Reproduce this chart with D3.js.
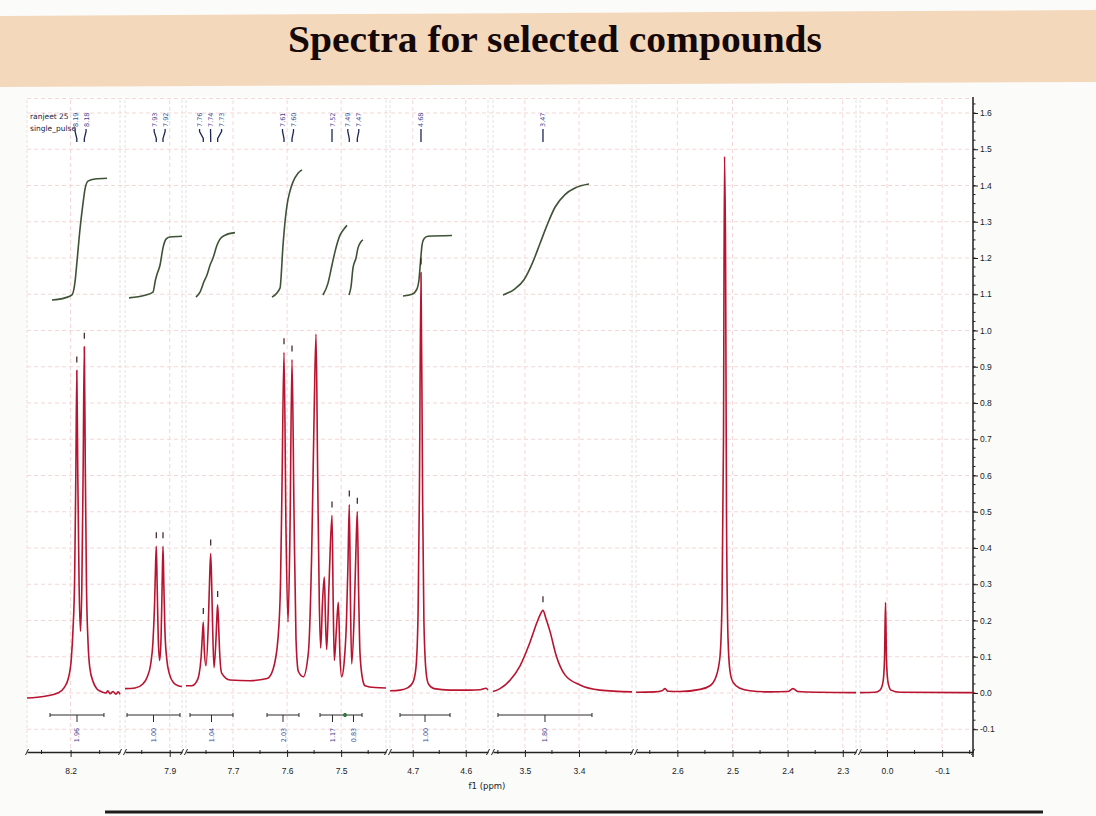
<!DOCTYPE html>
<html>
<head>
<meta charset="utf-8">
<script src="https://cdn.jsdelivr.net/npm/d3@7"></script>
<style>
  body { margin: 0; background: #fbfbfa; }
  svg { display: block; }
</style>
</head>
<body>
<div id="chart"></div>
<script>
// ---- data ----
// ppm window of each broken-axis segment
var segDomains = [
  [8.275, 8.115], [7.98, 7.878], [7.787, 7.417], [4.743, 4.558],
  [3.559, 3.302], [2.675, 2.276], [0.049, -0.156]
];

// spectrum traces, [ppm, intensity]
var spec1 = [[8.275,-0.014],[8.244,-0.009],[8.222,0.0],[8.211,0.015],[8.204,0.04],[8.199,0.09],[8.196,0.17],[8.193,0.32],[8.191,0.6],[8.1893,0.89],[8.1876,0.6],[8.1854,0.3],[8.183,0.17],[8.1806,0.3],[8.1784,0.62],[8.1764,0.955],[8.1747,0.62],[8.1727,0.3],[8.170,0.14],[8.167,0.07],[8.161,0.03],[8.155,0.012],[8.146,0.003],[8.139,0.0],[8.136,0.006],[8.132,-0.002],[8.127,0.004],[8.122,-0.003],[8.118,0.003],[8.115,-0.004]];
var spec2 = [[7.980,0.012],[7.962,0.014],[7.948,0.025],[7.940,0.045],[7.934,0.08],[7.930,0.14],[7.927,0.25],[7.9255,0.34],[7.924,0.405],[7.9225,0.3],[7.9205,0.15],[7.918,0.09],[7.9155,0.15],[7.9135,0.3],[7.912,0.405],[7.9105,0.3],[7.9085,0.17],[7.905,0.09],[7.900,0.05],[7.893,0.028],[7.885,0.02],[7.878,0.018]];
var spec3 = [[7.787,0.02],[7.776,0.02],[7.768,0.03],[7.763,0.05],[7.759,0.1],[7.757,0.15],[7.755,0.196],[7.7532,0.12],[7.750,0.075],[7.7455,0.2],[7.743,0.33],[7.7413,0.385],[7.7395,0.3],[7.738,0.2],[7.7352,0.07],[7.7315,0.15],[7.7295,0.22],[7.7284,0.243],[7.7265,0.18],[7.725,0.12],[7.721,0.055],[7.7056,0.036],[7.6686,0.034],[7.637,0.04],[7.626,0.065],[7.6168,0.15],[7.6122,0.3],[7.6094,0.57],[7.6057,0.94],[7.602,0.45],[7.5983,0.196],[7.5946,0.45],[7.5909,0.92],[7.5872,0.5],[7.5835,0.15],[7.5792,0.06],[7.570,0.045],[7.5607,0.11],[7.5545,0.385],[7.5502,0.75],[7.5465,0.99],[7.5434,0.6],[7.5404,0.25],[7.5378,0.124],[7.5345,0.25],[7.5311,0.32],[7.5289,0.2],[7.5267,0.12],[7.5224,0.3],[7.5169,0.49],[7.5147,0.25],[7.5126,0.09],[7.5086,0.18],[7.5052,0.25],[7.5021,0.1],[7.499,0.045],[7.4947,0.08],[7.4901,0.2],[7.4873,0.36],[7.4849,0.52],[7.4827,0.25],[7.4805,0.08],[7.4762,0.2],[7.4725,0.4],[7.4701,0.50],[7.4679,0.3],[7.4651,0.11],[7.4605,0.04],[7.4558,0.02],[7.4373,0.015],[7.417,0.014]];
var spec4 = [[4.743,0.006],[4.724,0.008],[4.709,0.015],[4.6996,0.03],[4.694,0.07],[4.690,0.22],[4.6875,0.55],[4.6845,1.16],[4.6815,0.55],[4.679,0.2],[4.675,0.06],[4.6705,0.025],[4.66,0.012],[4.63,0.008],[4.592,0.008],[4.573,0.009],[4.5618,0.013],[4.558,0.008]];
var spec5 = [[3.559,0.004],[3.546,0.012],[3.5276,0.035],[3.509,0.075],[3.4906,0.14],[3.4776,0.195],[3.4721,0.215],[3.4666,0.228],[3.461,0.205],[3.4536,0.17],[3.4425,0.105],[3.4259,0.05],[3.3981,0.022],[3.3612,0.008],[3.302,0.003]];
var spec6 = [[2.675,0.002],[2.6405,0.003],[2.6278,0.006],[2.6224,0.012],[2.617,0.005],[2.5952,0.004],[2.5589,0.01],[2.5408,0.02],[2.5299,0.045],[2.5227,0.1],[2.519,0.25],[2.5163,0.7],[2.5145,1.48],[2.5125,1.19],[2.5109,0.5],[2.5081,0.15],[2.5045,0.06],[2.4991,0.03],[2.4864,0.013],[2.4683,0.006],[2.432,0.003],[2.3993,0.004],[2.3903,0.012],[2.3812,0.004],[2.3413,0.002],[2.276,0.001]];
var spec7 = [[0.049,0.001],[0.0218,0.002],[0.0127,0.008],[0.0073,0.03],[0.0046,0.09],[0.0027,0.25],[0.0009,0.09],[-0.0018,0.03],[-0.0072,0.008],[-0.0236,0.002],[-0.156,0.001]];
var spectra = [spec1, spec2, spec3, spec4, spec5, spec6, spec7];

// integral curves, [ppm, value]; first entry is the segment index
var integrals = [
  [0, [[8.232,1.084],[8.2096,1.09],[8.1976,1.098],[8.1924,1.134],[8.189,1.19],[8.1838,1.28],[8.1787,1.35],[8.1752,1.39],[8.1701,1.412],[8.158,1.418],[8.1374,1.42]]],
  [1, [[7.9728,1.09],[7.9442,1.097],[7.9299,1.106],[7.9254,1.14],[7.9227,1.155],[7.9174,1.18],[7.912,1.228],[7.9066,1.252],[7.8995,1.258],[7.878,1.26]]],
  [2, [[7.7685,1.092],[7.7611,1.106],[7.7537,1.135],[7.7482,1.153],[7.7426,1.18],[7.737,1.2],[7.7297,1.235],[7.7241,1.252],[7.7149,1.263],[7.6964,1.27]]],
  [2, [[7.6279,1.092],[7.6131,1.117],[7.6075,1.236],[7.6038,1.3],[7.6001,1.346],[7.5946,1.385],[7.589,1.41],[7.5798,1.434],[7.5724,1.443]]],
  [2, [[7.5336,1.098],[7.5244,1.13],[7.517,1.18],[7.5114,1.217],[7.5021,1.263],[7.4947,1.28],[7.4892,1.29]]],
  [2, [[7.4855,1.098],[7.4818,1.12],[7.4781,1.172],[7.4725,1.2],[7.4688,1.228],[7.4633,1.245],[7.4596,1.25]]],
  [3, [[4.7185,1.095],[4.7015,1.1],[4.692,1.115],[4.6883,1.14],[4.6854,1.19],[4.6826,1.235],[4.6788,1.253],[4.6713,1.26],[4.626,1.262]]],
  [4, [[3.5405,1.098],[3.5183,1.115],[3.5017,1.14],[3.485,1.19],[3.4721,1.24],[3.4592,1.29],[3.4444,1.34],[3.4259,1.375],[3.4074,1.393],[3.3815,1.404]]]
];

// picked peaks: label, ppm, height
var peakLabels = ["8.19","8.18","7.93","7.92","7.76","7.74","7.73","7.61","7.60","7.52","7.49","7.47","4.68","3.47"];
var peakPpm = [8.1893,8.1764,7.924,7.912,7.755,7.7413,7.7284,7.6057,7.5909,7.5169,7.4849,7.4701,4.6845,3.4666];
var peakHeight = [0.89,0.955,0.405,0.405,0.196,0.385,0.243,0.94,0.92,0.49,0.52,0.50,1.16,0.228];

// integration ranges and their values
var intRanges = [[8.2354,8.1426],[7.9764,7.8816],[7.7796,7.700],[7.6371,7.578],[7.5391,7.4929],[7.4929,7.4614],[4.7241,4.6297],[3.5498,3.376]];
var intValues = ["1.96","1.00","1.04","2.03","1.17","0.83","1.00","1.80"];

var yTicks = d3.range(-1, 17).map(function(k) { return k / 10; });

// ---- layout ----
var svgWidth = 1096;
var svgHeight = 816;
var segPixels = [[27,120],[125,182],[186,386],[390,488],[493,632],[636,856],[860,973]];
var axisY = 752;
var plotTop = 100;
var rightX = 973;

var svg = d3.select("#chart")
  .append("svg")
  .attr("width", svgWidth)
  .attr("height", svgHeight);

// title banner
svg.append("polygon")
  .attr("points", "0,16 1096,10 1096,82 0,87")
  .attr("fill", "#f4d8bb");

svg.append("text")
  .attr("x", 555)
  .attr("y", 52)
  .attr("text-anchor", "middle")
  .attr("font-family", "Liberation Serif, serif")
  .attr("font-weight", "bold")
  .attr("font-size", 37)
  .attr("textLength", 534)
  .attr("lengthAdjust", "spacingAndGlyphs")
  .attr("fill", "#140808")
  .text("Spectra for selected compounds");

// plot background
svg.append("rect")
  .attr("x", 27).attr("y", 97)
  .attr("width", rightX - 27).attr("height", axisY - 97)
  .attr("fill", "#ffffff");

var y = d3.scaleLinear().domain([-0.1, 1.6]).range([729.25, 113]);

var xScales = segDomains.map(function(dom, i) {
  return d3.scaleLinear().domain(dom).range(segPixels[i]);
});

function fmt(v) { return v.toFixed(1); }

function ticksIn(dom, step) {
  var lo = Math.min(dom[0], dom[1]), hi = Math.max(dom[0], dom[1]);
  var out = [];
  for (var k = Math.ceil(lo / step - 1e-9); k <= Math.floor(hi / step + 1e-9); k++) {
    out.push(+(k * step).toFixed(3));
  }
  return out;
}

// grid
var grid = svg.append("g");
grid.selectAll(".hgrid")
  .data(yTicks.concat([1.64]))
  .enter()
  .append("line")
  .attr("x1", 27).attr("x2", rightX)
  .attr("y1", function(d) { return y(d); })
  .attr("y2", function(d) { return y(d); })
  .attr("stroke", "#f5d6d6")
  .attr("stroke-dasharray", "4,3");

xScales.forEach(function(xs, i) {
  var major = ticksIn(segDomains[i], 0.1);
  grid.selectAll(null)
    .data(major)
    .enter()
    .append("line")
    .attr("x1", function(d) { return xs(d); })
    .attr("x2", function(d) { return xs(d); })
    .attr("y1", plotTop).attr("y2", axisY)
    .attr("stroke", "#f5d6d6")
    .attr("stroke-dasharray", "4,3");
  // segment edges
  grid.selectAll(null)
    .data(segPixels[i])
    .enter()
    .append("line")
    .attr("x1", function(d) { return d; })
    .attr("x2", function(d) { return d; })
    .attr("y1", plotTop).attr("y2", axisY)
    .attr("stroke", "#e2e2e2")
    .attr("stroke-dasharray", "3,2");
});

// x axis, one piece per segment
xScales.forEach(function(xs, i) {
  var major = ticksIn(segDomains[i], 0.1);
  var minor = ticksIn(segDomains[i], 0.05).filter(function(v) {
    return major.indexOf(v) < 0;
  });

  var g = svg.append("g")
    .attr("transform", `translate(0, ${axisY})`)
    .attr("font-family", "DejaVu Sans, sans-serif");

  g.call(d3.axisBottom(xs).tickValues(major).tickSize(5).tickSizeOuter(0).tickPadding(11).tickFormat(fmt));
  g.select(".domain").attr("stroke", "#222").attr("stroke-width", 1.4);
  g.selectAll(".tick line").attr("stroke", "#222").attr("y1", -2);
  g.selectAll(".tick text").attr("font-size", 8.5).attr("fill", "#222");

  g.selectAll(".minor")
    .data(minor)
    .enter()
    .append("line")
    .attr("x1", function(d) { return xs(d); })
    .attr("x2", function(d) { return xs(d); })
    .attr("y1", -2).attr("y2", 2)
    .attr("stroke", "#222");

  // little break marks at the segment ends
  g.selectAll(".brk")
    .data(segPixels[i])
    .enter()
    .append("line")
    .attr("x1", function(d) { return d - 1.5; })
    .attr("x2", function(d) { return d + 1.5; })
    .attr("y1", 3).attr("y2", -3)
    .attr("stroke", "#222");
});

svg.append("text")
  .attr("x", 487)
  .attr("y", 789)
  .attr("text-anchor", "middle")
  .attr("font-family", "DejaVu Sans, sans-serif")
  .attr("font-size", 8.5)
  .attr("fill", "#222")
  .text("f1 (ppm)");

// y axis on the right
var yAxisG = svg.append("g")
  .attr("transform", `translate(${rightX}, 0)`)
  .attr("font-family", "DejaVu Sans, sans-serif");

yAxisG.call(d3.axisRight(y).tickValues(yTicks).tickSize(5).tickPadding(2).tickFormat(fmt));
yAxisG.select(".domain").remove();
yAxisG.selectAll(".tick line").attr("stroke", "#222");
yAxisG.selectAll(".tick text").attr("font-size", 8.5).attr("fill", "#222");

yAxisG.selectAll(".yminor")
  .data(d3.range(-4, 66).map(function(k) { return k * 0.025; }))
  .enter()
  .append("line")
  .attr("x1", 0).attr("x2", 2.5)
  .attr("y1", function(d) { return y(d); })
  .attr("y2", function(d) { return y(d); })
  .attr("stroke", "#222");

yAxisG.append("line")
  .attr("x1", 0).attr("x2", 0)
  .attr("y1", 97).attr("y2", 757)
  .attr("stroke", "#222")
  .attr("stroke-width", 1.5);

// spectrum traces
spectra.forEach(function(data, i) {
  var xs = xScales[i];
  var line = d3.line()
    .x(function(d) { return xs(d[0]); })
    .y(function(d) { return y(d[1]); })
    .curve(d3.curveMonotoneX);
  svg.append("path")
    .datum(data)
    .attr("d", line)
    .attr("fill", "none")
    .attr("stroke", "#b8142f")
    .attr("stroke-width", 1.6)
    .attr("stroke-linejoin", "round");
});

// integral curves
integrals.forEach(function(item) {
  var xs = xScales[item[0]];
  var line = d3.line()
    .x(function(d) { return xs(d[0]); })
    .y(function(d) { return y(d[1]); })
    .curve(d3.curveMonotoneX);
  svg.append("path")
    .datum(item[1])
    .attr("d", line)
    .attr("fill", "none")
    .attr("stroke", "#3e5236")
    .attr("stroke-width", 1.6);
});

// peak picking: find which segment holds a ppm
function segOf(p) {
  for (var i = 0; i < segDomains.length; i++) {
    var lo = Math.min(segDomains[i][0], segDomains[i][1]);
    var hi = Math.max(segDomains[i][0], segDomains[i][1]);
    if (p >= lo && p <= hi) return i;
  }
  return 0;
}
function xOf(p) { return xScales[segOf(p)](p); }

var peakX = peakPpm.map(xOf);
var labelX = peakX.slice();
// spread labels so they do not collide
for (var pass = 0; pass < 40; pass++) {
  for (var j = 1; j < labelX.length; j++) {
    var gap = labelX[j] - labelX[j - 1];
    if (gap < 11) {
      var push = (11 - gap) / 2;
      labelX[j - 1] -= push;
      labelX[j] += push;
    }
  }
}

var peakG = svg.append("g");
peakLabels.forEach(function(lab, i) {
  peakG.append("polyline")
    .attr("points", [[labelX[i], 129], [labelX[i], 131.5], [peakX[i], 138.5], [peakX[i], 142]].join(" "))
    .attr("fill", "none")
    .attr("stroke", "#1d2656")
    .attr("stroke-width", 1.3);
  peakG.append("text")
    .attr("transform", `translate(${labelX[i] + 2.5}, 127) rotate(-90)`)
    .attr("font-family", "DejaVu Sans, sans-serif")
    .attr("font-size", 6.5)
    .attr("fill", "#3a4590")
    .text(lab);
  // small pick marker above the peak top
  peakG.append("line")
    .attr("x1", peakX[i]).attr("x2", peakX[i])
    .attr("y1", y(peakHeight[i]) - 14)
    .attr("y2", y(peakHeight[i]) - 8)
    .attr("stroke", "#3a1a1a")
    .attr("stroke-width", 1.2);
});

// sample name in the corner
svg.append("text")
  .attr("x", 30).attr("y", 119)
  .attr("font-family", "DejaVu Sans, sans-serif")
  .attr("font-size", 7.5)
  .attr("fill", "#1c2240")
  .text("ranjeet 25");
svg.append("text")
  .attr("x", 30).attr("y", 131)
  .attr("font-family", "DejaVu Sans, sans-serif")
  .attr("font-size", 7.5)
  .attr("fill", "#1c2240")
  .text("single_pulse");

// integration bars
var barY = 715;
intRanges.forEach(function(r, i) {
  var x1 = xOf(r[0]), x2 = xOf(r[1]);
  var xc = (x1 + x2) / 2;
  var g = svg.append("g").attr("stroke", "#2a2a2a");
  g.append("line").attr("x1", x1).attr("x2", x2).attr("y1", barY).attr("y2", barY);
  g.append("line").attr("x1", x1).attr("x2", x1).attr("y1", barY - 2).attr("y2", barY + 2);
  g.append("line").attr("x1", x2).attr("x2", x2).attr("y1", barY - 2).attr("y2", barY + 2);
  g.append("line").attr("x1", xc).attr("x2", xc).attr("y1", barY).attr("y2", barY + 7);
  svg.append("text")
    .attr("transform", `translate(${xc + 2.5}, 735) rotate(-90)`)
    .attr("text-anchor", "middle")
    .attr("font-family", "DejaVu Sans, sans-serif")
    .attr("font-size", 6.5)
    .attr("fill", "#3a4590")
    .text(intValues[i]);
});
// green junction dot between the two touching ranges
svg.append("circle")
  .attr("cx", xOf(intRanges[4][1]))
  .attr("cy", barY)
  .attr("r", 2)
  .attr("fill", "#2f7a3a");

// dark edge at the bottom of the photo
svg.append("line")
  .attr("x1", 105).attr("x2", 1043)
  .attr("y1", 812).attr("y2", 812)
  .attr("stroke", "#1e1e1e")
  .attr("stroke-width", 3);
</script>
</body>
</html>
